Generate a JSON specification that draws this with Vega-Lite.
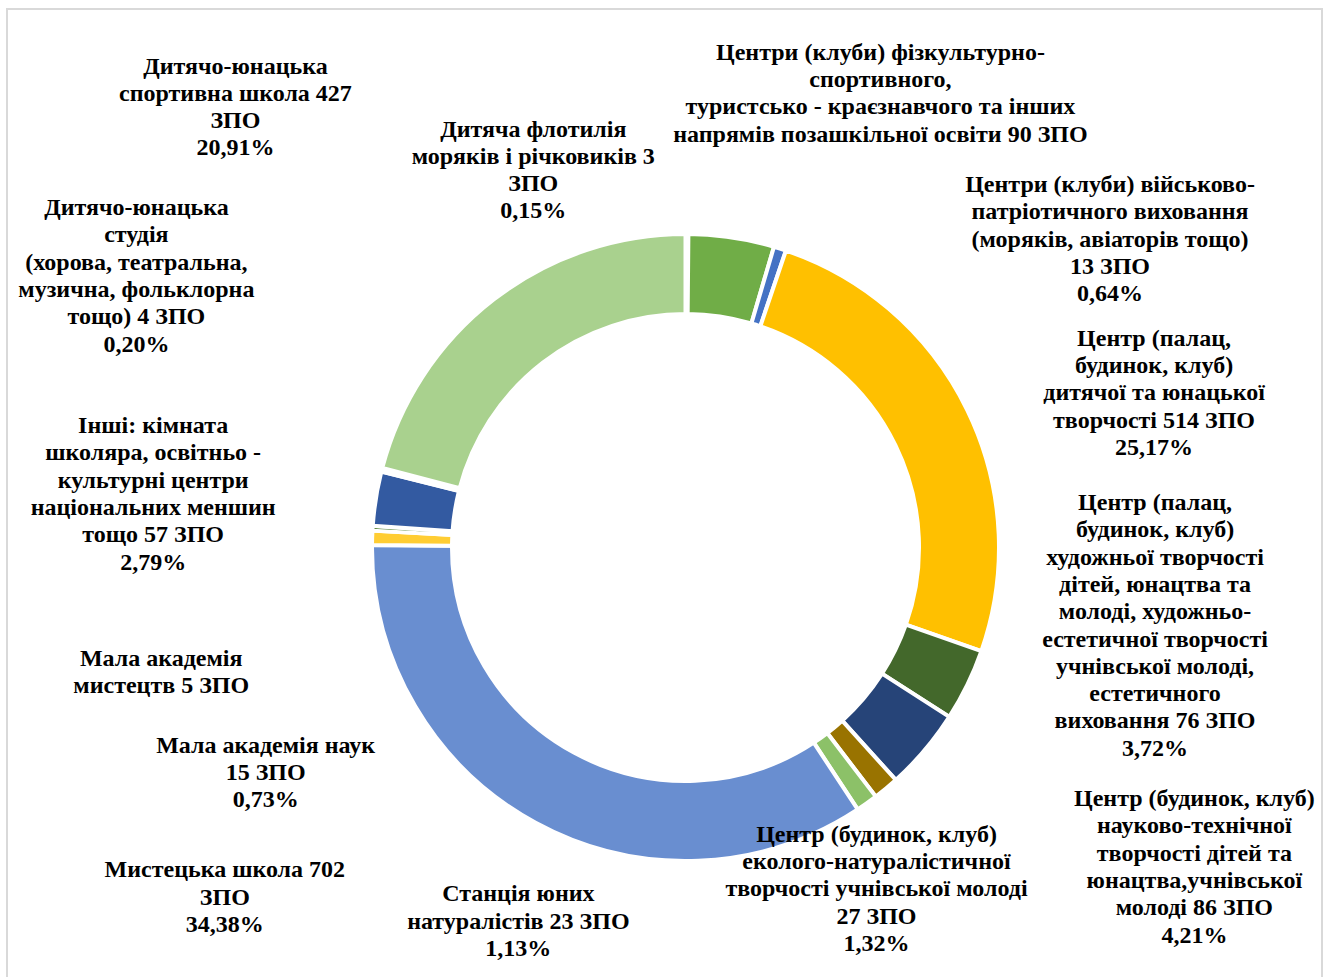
{
  "$schema": "https://vega.github.io/schema/vega-lite/v6.json",
  "width": 1315,
  "height": 969,
  "autosize": {"type": "none"},
  "padding": {"left": 7, "top": 9, "right": 9, "bottom": 0},
  "background": "white",
  "view": {"stroke": "#D9D9D9", "strokeWidth": 2, "fill": "white"},
  "config": {
    "view": {"stroke": "#D9D9D9", "strokeWidth": 2},
    "text": {"font": "Liberation Serif", "fontWeight": "bold", "fontSize": 24, "lineHeight": 27.3, "align": "center", "baseline": "middle", "lineBreak": "\n", "color": "#000000"}
  },
  "data": {
    "values": [
      {"ord": 1, "cat": "Дитяча флотилія", "n": 3, "label": "Дитяча флотилія\nморяків і річковиків 3\nЗПО\n0,15%"},
      {"ord": 2, "cat": "Центри фізкультурно-спортивного напряму", "n": 90, "label": "Центри (клуби) фізкультурно-\nспортивного,\nтуристсько - краєзнавчого та інших\nнапрямів позашкільної освіти 90 ЗПО"},
      {"ord": 3, "cat": "Центри військово-патріотичного виховання", "n": 13, "label": "Центри (клуби) військово-\nпатріотичного виховання\n(моряків, авіаторів тощо)\n13 ЗПО\n0,64%"},
      {"ord": 4, "cat": "Центр дитячої та юнацької творчості", "n": 514, "label": "Центр (палац,\nбудинок, клуб)\nдитячої та юнацької\nтворчості 514 ЗПО\n25,17%"},
      {"ord": 5, "cat": "Центр художньої творчості", "n": 76, "label": "Центр (палац,\nбудинок, клуб)\nхудожньої творчості\nдітей,  юнацтва та\nмолоді, художньо-\nестетичної творчості\nучнівської молоді,\nестетичного\nвиховання 76 ЗПО\n3,72%"},
      {"ord": 6, "cat": "Центр науково-технічної творчості", "n": 86, "label": "Центр (будинок, клуб)\nнауково-технічної\nтворчості дітей та\nюнацтва,учнівської\nмолоді 86 ЗПО\n4,21%"},
      {"ord": 7, "cat": "Центр еколого-натуралістичної творчості", "n": 27, "label": "Центр (будинок, клуб)\nеколого-натуралістичної\nтворчості учнівської молоді\n27 ЗПО\n1,32%"},
      {"ord": 8, "cat": "Станція юних натуралістів", "n": 23, "label": "Станція юних\nнатуралістів 23 ЗПО\n1,13%"},
      {"ord": 9, "cat": "Мистецька школа", "n": 702, "label": "Мистецька школа 702\nЗПО\n34,38%"},
      {"ord": 10, "cat": "Мала академія наук", "n": 15, "label": "Мала академія наук\n15 ЗПО\n0,73%"},
      {"ord": 11, "cat": "Мала академія мистецтв", "n": 5, "label": "Мала академія\nмистецтв 5 ЗПО"},
      {"ord": 12, "cat": "Інші", "n": 57, "label": "Інші: кімната\nшколяра, освітньо -\nкультурні центри\nнаціональних меншин\nтощо 57 ЗПО\n2,79%"},
      {"ord": 13, "cat": "Дитячо-юнацька студія", "n": 4, "label": "Дитячо-юнацька\nстудія\n(хорова, театральна,\nмузична, фольклорна\nтощо) 4 ЗПО\n0,20%"},
      {"ord": 14, "cat": "Дитячо-юнацька спортивна школа", "n": 427, "label": "Дитячо-юнацька\nспортивна школа 427\nЗПО\n20,91%"}
    ]
  },
  "encoding": {
    "theta": {"field": "n", "type": "quantitative", "stack": true},
    "order": {"field": "ord", "type": "quantitative"}
  },
  "layer": [
    {
      "mark": {"type": "arc", "radius": 313.5, "radius2": 233.5, "stroke": "#FFFFFF", "strokeWidth": 4, "xOffset": 21, "yOffset": 54},
      "encoding": {
        "color": {
          "field": "cat",
          "type": "nominal",
          "legend": null,
          "scale": {
            "domain": ["Дитяча флотилія", "Центри фізкультурно-спортивного напряму", "Центри військово-патріотичного виховання", "Центр дитячої та юнацької творчості", "Центр художньої творчості", "Центр науково-технічної творчості", "Центр еколого-натуралістичної творчості", "Станція юних натуралістів", "Мистецька школа", "Мала академія наук", "Мала академія мистецтв", "Інші", "Дитячо-юнацька студія", "Дитячо-юнацька спортивна школа"],
            "range": ["#ED7D31", "#70AD47", "#4472C4", "#FFC000", "#43682B", "#264478", "#997300", "#8CC168", "#698ED0", "#FFCD33", "#548235", "#335AA1", "#A5A5A5", "#A9D18E"]
          }
        }
      }
    },
    {"mark": {"type": "text", "radius": 380, "dx": -154, "dy": -38, "xOffset": 21, "yOffset": 54}, "encoding": {"text": {"condition": {"test": "datum.ord === 1", "field": "label", "type": "nominal"}, "value": ""}}},
    {"mark": {"type": "text", "radius": 380, "dx": 139, "dy": -119, "xOffset": 21, "yOffset": 54}, "encoding": {"text": {"condition": {"test": "datum.ord === 2", "field": "label", "type": "nominal"}, "value": ""}}},
    {"mark": {"type": "text", "radius": 380, "dx": 310, "dy": 0, "xOffset": 21, "yOffset": 54}, "encoding": {"text": {"condition": {"test": "datum.ord === 3", "field": "label", "type": "nominal"}, "value": ""}}},
    {"mark": {"type": "text", "radius": 380, "dx": 127, "dy": -42, "xOffset": 21, "yOffset": 54}, "encoding": {"text": {"condition": {"test": "datum.ord === 4", "field": "label", "type": "nominal"}, "value": ""}}},
    {"mark": {"type": "text", "radius": 380, "dx": 128, "dy": -211, "xOffset": 21, "yOffset": 54}, "encoding": {"text": {"condition": {"test": "datum.ord === 5", "field": "label", "type": "nominal"}, "value": ""}}},
    {"mark": {"type": "text", "radius": 380, "dx": 219, "dy": 6, "xOffset": 21, "yOffset": 54}, "encoding": {"text": {"condition": {"test": "datum.ord === 6", "field": "label", "type": "nominal"}, "value": ""}}},
    {"mark": {"type": "text", "radius": 380, "dx": -52, "dy": -5, "xOffset": 21, "yOffset": 54}, "encoding": {"text": {"condition": {"test": "datum.ord === 7", "field": "label", "type": "nominal"}, "value": ""}}},
    {"mark": {"type": "text", "radius": 380, "dx": -387, "dy": 37, "xOffset": 21, "yOffset": 54}, "encoding": {"text": {"condition": {"test": "datum.ord === 8", "field": "label", "type": "nominal"}, "value": ""}}},
    {"mark": {"type": "text", "radius": 380, "dx": -279, "dy": -11, "xOffset": 21, "yOffset": 54}, "encoding": {"text": {"condition": {"test": "datum.ord === 9", "field": "label", "type": "nominal"}, "value": ""}}},
    {"mark": {"type": "text", "radius": 380, "dx": -40, "dy": 210, "xOffset": 21, "yOffset": 54}, "encoding": {"text": {"condition": {"test": "datum.ord === 10", "field": "label", "type": "nominal"}, "value": ""}}},
    {"mark": {"type": "text", "radius": 380, "dx": -145, "dy": 135, "xOffset": 21, "yOffset": 54}, "encoding": {"text": {"condition": {"test": "datum.ord === 11", "field": "label", "type": "nominal"}, "value": ""}}},
    {"mark": {"type": "text", "radius": 380, "dx": -157, "dy": -62, "xOffset": 21, "yOffset": 54}, "encoding": {"text": {"condition": {"test": "datum.ord === 12", "field": "label", "type": "nominal"}, "value": ""}}},
    {"mark": {"type": "text", "radius": 380, "dx": -181, "dy": -245, "xOffset": 21, "yOffset": 54}, "encoding": {"text": {"condition": {"test": "datum.ord === 13", "field": "label", "type": "nominal"}, "value": ""}}},
    {"mark": {"type": "text", "radius": 380, "dx": -218, "dy": -180, "xOffset": 21, "yOffset": 54}, "encoding": {"text": {"condition": {"test": "datum.ord === 14", "field": "label", "type": "nominal"}, "value": ""}}}
  ]
}
